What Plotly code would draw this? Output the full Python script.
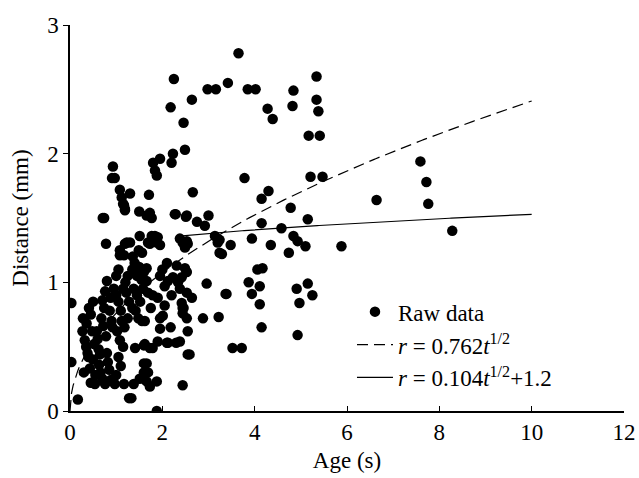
import numpy as np
import plotly.graph_objects as go

# Raw data points (age in s, distance in mm)
age = [
    0.03, 0.03, 0.17,
    0.27, 0.32, 0.35, 0.38, 0.40, 0.30, 0.43, 0.45, 0.36, 0.41, 0.28, 0.45, 0.50, 0.48, 0.52, 0.50, 0.55, 0.54,
    0.58, 0.60, 0.62, 0.65, 0.63, 0.66, 0.70, 0.68, 0.70, 0.74, 0.76, 0.80, 0.72, 0.78, 0.76, 0.80, 0.82, 0.85,
    0.88, 0.90, 0.92, 0.86, 0.88, 0.95, 0.97, 0.74, 0.78,
    0.93, 0.91, 0.97, 1.08, 1.30, 1.12, 1.15, 1.19, 1.17,
    1.00, 1.05, 1.08, 1.08, 1.17, 1.23, 1.19, 1.30, 1.00, 1.05, 1.10, 1.15, 1.20, 1.25, 1.22, 1.28, 1.12, 1.18,
    1.25, 1.02, 1.08, 1.15, 1.05, 1.10, 1.00, 1.17, 1.28, 1.38, 1.33,
    1.35, 1.40, 1.45, 1.50, 1.55, 1.60, 1.66, 1.66, 1.38, 1.45, 1.52, 1.58, 1.69, 1.35, 1.42, 1.48, 1.56, 1.62,
    1.41, 1.60, 1.73, 1.62, 1.79, 1.60, 1.66, 1.60, 1.69, 1.51, 1.66, 1.73, 1.88, 1.36, 1.49, 1.51, 1.56, 1.69,
    1.84, 1.88, 1.73, 1.77, 1.90, 1.95, 1.66, 1.73, 1.77, 1.71, 1.50, 1.19, 0.71, 1.79, 1.90, 1.75,
    1.95, 1.80, 1.84, 1.88, 2.23, 2.20, 2.27, 2.29, 2.53, 2.51, 2.75, 2.92, 3.00, 2.38, 2.44, 2.49, 2.53, 2.55,
    2.31, 2.49, 2.53, 2.42, 2.34, 2.23, 2.12, 2.05, 2.38, 2.53, 2.64, 2.42, 2.44, 2.46, 2.44, 2.53, 2.55, 1.95,
    2.01, 1.95, 2.18, 1.90, 2.12, 2.38, 2.30, 2.10, 2.55, 2.59, 2.44, 1.88, 2.66, 2.46, 2.49, 2.18, 2.64, 2.25,
    2.00, 2.10, 1.95, 2.20, 2.05,
    2.88, 3.22, 2.96, 3.39, 3.52, 3.72, 3.14, 3.20, 3.24, 3.48, 3.24, 3.29, 3.94, 4.35, 4.74, 4.84, 4.93, 5.10,
    5.88, 4.06, 4.17, 3.87, 4.11, 3.94, 4.11, 3.37, 4.91, 5.15, 5.25, 4.97, 4.15, 4.93, 4.15, 4.58, 5.15, 4.78,
    4.15, 4.30, 3.78, 5.21, 5.47, 5.17, 5.41, 4.28, 4.39, 4.82, 5.34, 5.38, 5.34, 4.84, 3.85, 4.02, 2.98, 3.16,
    3.42, 3.65, 6.64, 7.59, 7.72, 7.76, 8.28,
]
distance = [
    0.84, 0.38, 0.09,
    0.62, 0.55, 0.50, 0.45, 0.42, 0.30, 0.33, 0.22, 0.68, 0.80, 0.72, 0.75, 0.85, 0.62, 0.52, 0.40, 0.28, 0.21,
    0.62, 0.56, 0.48, 0.44, 0.36, 0.30, 0.25, 0.72, 0.86, 0.80, 0.93, 1.01, 0.66, 0.58, 0.21, 0.45, 0.38, 0.32,
    0.24, 0.70, 0.65, 0.78, 0.88, 0.95, 0.21, 1.50, 1.30,
    1.90, 1.81, 1.81, 1.72, 1.69, 1.66, 1.61, 1.57, 1.60,
    1.05, 1.10, 1.21, 1.25, 1.21, 1.31, 1.30, 1.31, 0.90, 0.85, 0.78, 0.95, 1.00, 1.05, 0.92, 0.85, 0.70, 0.65,
    0.72, 0.62, 0.55, 0.50, 0.42, 0.35, 0.28, 0.21, 0.10, 0.21, 0.10,
    1.10, 1.15, 1.05, 1.12, 1.02, 1.08, 1.11, 1.01, 0.95, 0.90, 0.85, 0.95, 0.92, 0.80, 0.78, 0.72, 0.70, 0.70,
    0.49, 0.51, 0.49, 0.52, 0.49, 0.37, 0.37, 0.30, 0.30, 0.25, 0.23, 0.19, 0.23, 1.20, 1.25, 1.36, 1.23, 1.31,
    1.36, 1.31, 1.30, 1.36, 1.35, 1.29, 1.52, 1.54, 1.50, 1.68, 1.55, 1.56, 1.50, 0.90, 0.88, 0.80,
    1.96, 1.93, 1.87, 1.83, 2.00, 1.93, 1.53, 1.53, 1.52, 1.51, 1.47, 1.44, 1.52, 1.34, 1.31, 1.27, 1.32, 1.30,
    1.13, 1.11, 1.08, 1.04, 1.00, 1.04, 1.01, 0.97, 0.95, 0.92, 0.88, 0.84, 0.80, 0.80, 0.76, 0.72, 0.62, 0.72,
    0.74, 0.64, 0.65, 0.54, 0.53, 0.54, 0.53, 0.53, 0.44, 0.44, 0.20, 0.00, 1.70, 2.24, 2.03, 2.36, 2.42, 2.58,
    1.10, 1.15, 1.05, 0.90, 0.82,
    0.72, 0.73, 0.99, 0.91, 0.49, 0.49, 1.36, 1.31, 1.23, 1.29, 1.33, 1.22, 1.34, 1.29, 1.23, 1.36, 1.32, 1.28,
    1.28, 1.10, 1.11, 1.00, 0.97, 0.91, 0.83, 0.91, 0.95, 0.99, 0.90, 0.84, 0.65, 0.59, 1.46, 1.42, 1.49, 1.58,
    1.65, 1.71, 1.81, 1.82, 1.82, 2.14, 2.14, 2.35, 2.27, 2.37, 2.42, 2.33, 2.60, 2.49, 2.50, 2.50, 2.50, 2.50,
    2.55, 2.78, 1.64, 1.94, 1.78, 1.61, 1.40,
]

# Fit parameters and plotted ranges
fit1_coef = 0.762
fit2_coef, fit2_const = 0.104, 1.2
fit1_t = np.linspace(0, 10, 300)
fit2_t = np.linspace(2.3, 10, 200)

x_ticks = [0, 2, 4, 6, 8, 10, 12]
y_ticks = [0, 1, 2, 3]

FONT = "Liberation Serif, Times New Roman, serif"
FS = 23

fig = go.Figure()
fig.add_trace(go.Scatter(
    x=age, y=distance, mode="markers", name="Raw data",
    marker=dict(color="black", size=10.5, line=dict(width=0)),
))
fig.add_trace(go.Scatter(
    x=fit1_t, y=fit1_coef * np.sqrt(fit1_t), mode="lines",
    name="<i>r</i> = 0.762<i>t</i><sup>1/2</sup>",
    line=dict(color="black", width=1.2, dash="11px,6px"),
))
fig.add_trace(go.Scatter(
    x=fit2_t, y=fit2_coef * np.sqrt(fit2_t) + fit2_const, mode="lines",
    name="<i>r</i> = 0.104<i>t</i><sup>1/2</sup>+1.2",
    line=dict(color="black", width=1.2),
))

fig.update_layout(
    width=639, height=478,
    margin=dict(l=70, r=15, t=25, b=67, autoexpand=False),
    paper_bgcolor="white", plot_bgcolor="white",
    font=dict(family=FONT, size=FS, color="black"),
    showlegend=True,
    legend=dict(
        x=0.509, y=0.313, xanchor="left", yanchor="top",
        bgcolor="rgba(0,0,0,0)", font=dict(size=FS, family=FONT),
        tracegroupgap=0, itemwidth=36,
    ),
    xaxis=dict(
        range=[0, 12], tickvals=x_ticks, showgrid=False, zeroline=False,
        showline=True, linecolor="black", linewidth=1.5, automargin=False,
        ticks="inside", ticklen=5, tickcolor="black",
        tickfont=dict(size=FS), ticklabeloverflow="allow",
        title=dict(text="Age (s)", font=dict(size=FS), standoff=8),
    ),
    yaxis=dict(
        range=[0, 3], tickvals=y_ticks, showgrid=False, zeroline=False,
        showline=True, linecolor="black", linewidth=1.5, automargin=False,
        ticks="outside", ticklen=5, tickcolor="black",
        tickfont=dict(size=FS),
        title=dict(text="Distance (mm)", font=dict(size=FS), standoff=12),
    ),
)

fig.write_html(
    "out.html",
    config={"displayModeBar": False},
    post_script="document.body.style.margin='0';document.documentElement.style.overflow='hidden';",
)
